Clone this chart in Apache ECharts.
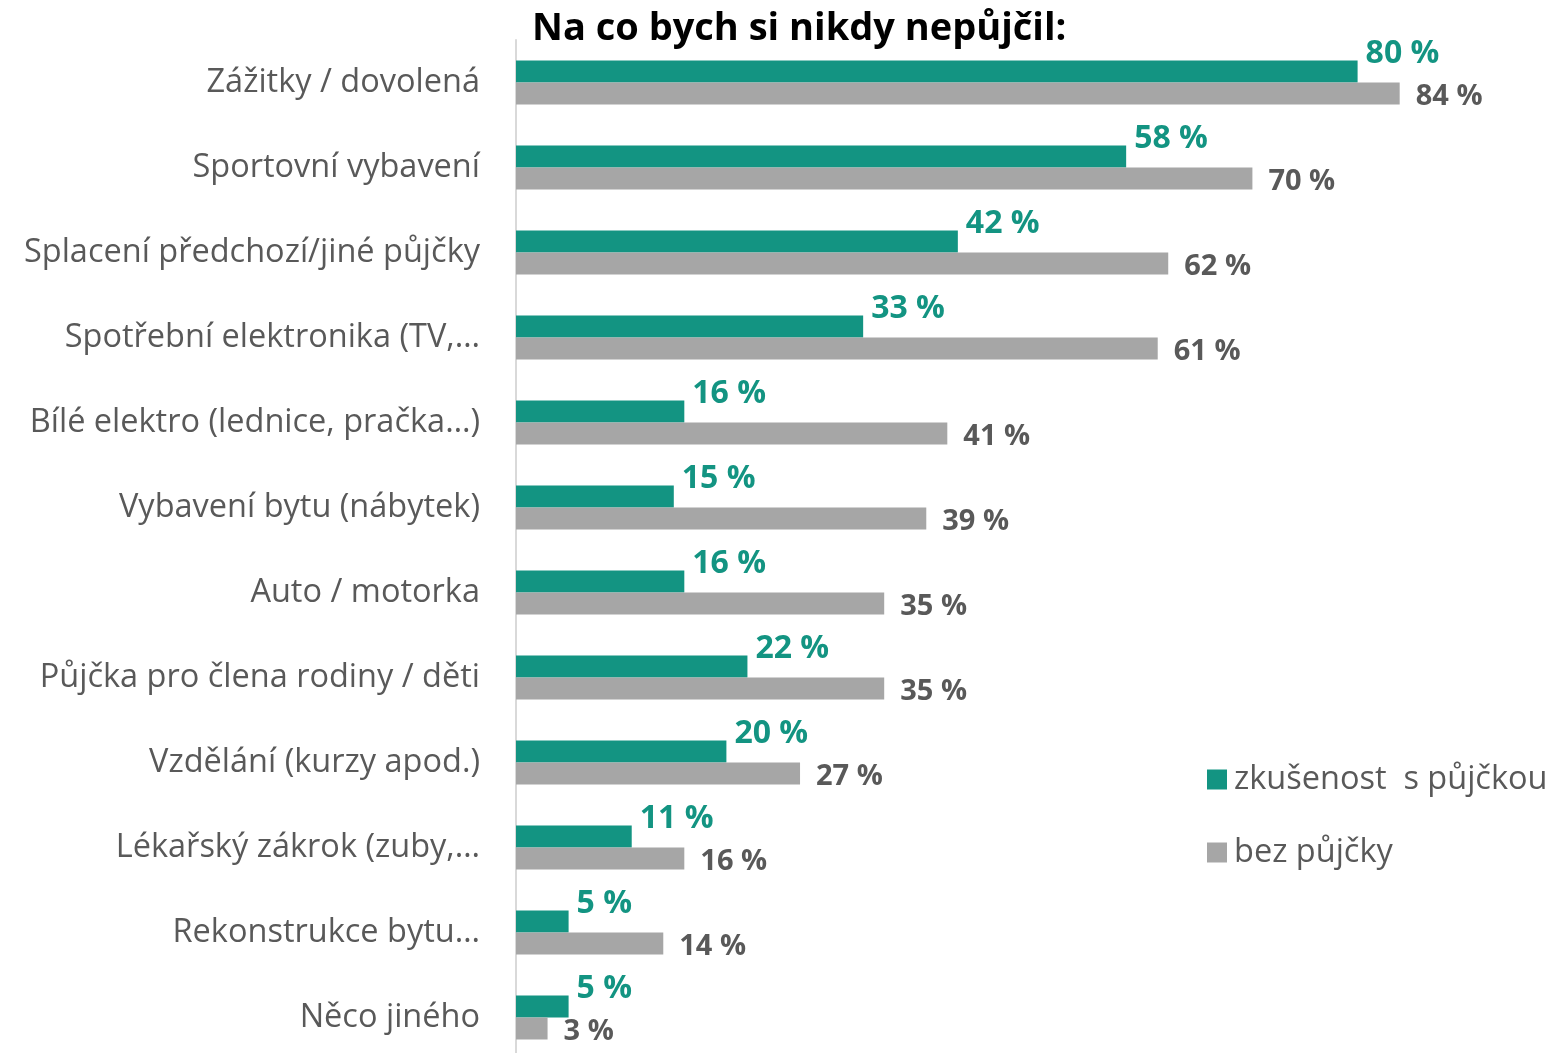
<!DOCTYPE html>
<html>
<head>
<meta charset="utf-8">
<script src="https://cdn.jsdelivr.net/npm/echarts@6/dist/echarts.min.js"></script>
<style>
  html, body { margin: 0; padding: 0; background: #fff; overflow: hidden; }
  #main { width: 1568px; height: 1060px; }
</style>
</head>
<body>
<div id="main"></div>
<script>
// data
var categories = [
  'Zážitky / dovolená',
  'Sportovní vybavení',
  'Splacení předchozí/jiné půjčky',
  'Spotřební elektronika (TV,…',
  'Bílé elektro (lednice, pračka…)',
  'Vybavení bytu (nábytek)',
  'Auto / motorka',
  'Půjčka pro člena rodiny / děti',
  'Vzdělání (kurzy apod.)',
  'Lékařský zákrok (zuby,…',
  'Rekonstrukce bytu…',
  'Něco jiného'
];
var seriesNames = ['zkušenost  s půjčkou', 'bez půjčky'];
var withLoan = [80, 58, 42, 33, 16, 15, 16, 22, 20, 11, 5, 5];
var withoutLoan = [84, 70, 62, 61, 41, 39, 35, 35, 27, 16, 14, 3];

var myChart = echarts.init(document.getElementById('main'));
var option = {
  animation: false,
  title: {
    text: 'Na co bych si nikdy nepůjčil:',
    left: 527,
    top: 5,
    textStyle: { fontFamily: 'Open Sans', fontWeight: 'bold', fontSize: 38, color: '#000' }
  },
  legend: {
    data: seriesNames,
    orient: 'vertical',
    left: 1202,
    top: 758,
    itemWidth: 20,
    itemHeight: 20,
    itemGap: 40,
    icon: 'rect',
    textStyle: { fontFamily: 'Open Sans', fontSize: 32.5, color: '#595959', padding: [0, 0, 0, 2] }
  },
  grid: { left: 516, top: 40, width: 1055, bottom: 0 },
  xAxis: {
    type: 'value',
    min: 0,
    max: 100,
    show: false
  },
  yAxis: {
    type: 'category',
    data: categories,
    inverse: true,
    axisTick: { show: false },
    axisLine: { show: true, lineStyle: { color: '#d9d9d9', width: 2 } },
    axisLabel: { fontFamily: 'Open Sans', fontSize: 32.5, color: '#595959', margin: 36 }
  },
  series: [
    {
      name: seriesNames[0],
      type: 'bar',
      data: withLoan,
      barWidth: 22,
      barGap: '0%',
      itemStyle: { color: '#139482' },
      label: {
        show: true,
        position: 'right',
        distance: 8,
        offset: [0, -18],
        formatter: '{c} %',
        fontFamily: 'Open Sans',
        fontWeight: 'bold',
        fontSize: 32,
        color: '#139482'
      }
    },
    {
      name: seriesNames[1],
      type: 'bar',
      data: withoutLoan,
      barWidth: 22,
      barGap: '0%',
      itemStyle: { color: '#a6a6a6' },
      label: {
        show: true,
        position: 'right',
        distance: 16,
        offset: [0, 3],
        formatter: '{c} %',
        fontFamily: 'Open Sans',
        fontWeight: 'bold',
        fontSize: 29,
        color: '#595959'
      }
    }
  ]
};
myChart.setOption(option);
window.addEventListener('resize', function () {
  myChart.resize();
});
</script>
</body>
</html>
